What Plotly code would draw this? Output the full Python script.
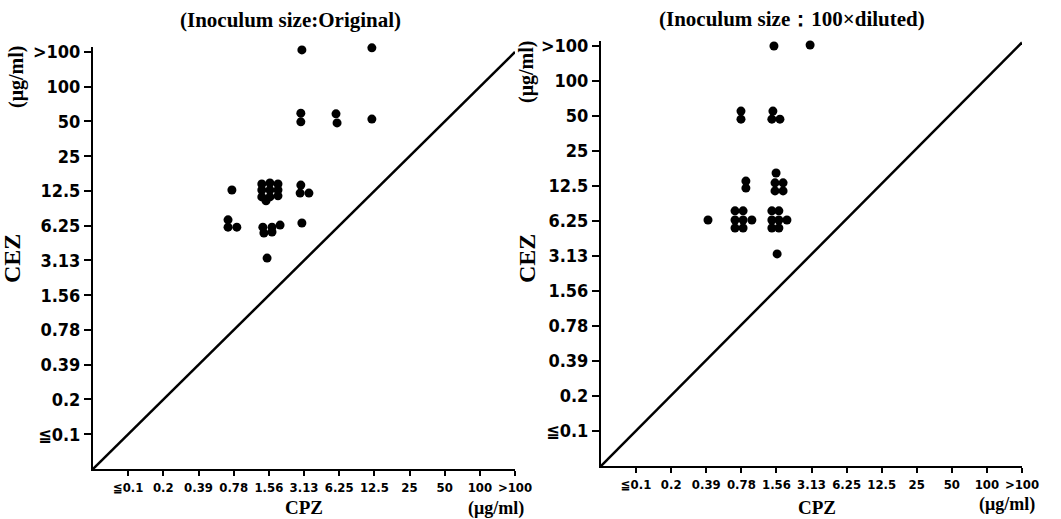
import plotly.graph_objects as go

# Tick positions (ordinal MIC steps) and labels
tick_pos = list(range(1, 13))
x_tick_labels = ["≦0.1", "0.2", "0.39", "0.78", "1.56", "3.13", "6.25", "12.5", "25", "50", "100", ">100"]
y_tick_labels = ["≦0.1", "0.2", "0.39", "0.78", "1.56", "3.13", "6.25", "12.5", "25", "50", "100", ">100"]

# Left panel (Inoculum size: Original) – dot positions on the ordinal MIC scale
left_cpz = [3.95,
            4.80, 5.03, 5.26, 4.80, 5.03, 5.26, 4.80, 5.03, 5.26, 4.92,
            5.91, 5.89, 6.14,
            3.84, 3.84, 4.09,
            4.83, 4.86, 5.09, 5.09, 5.32,
            5.94, 4.95,
            5.94, 7.93,
            5.91, 5.91, 6.91, 6.94, 7.93]
left_cez = [8.03,
            8.20, 8.23, 8.20, 8.03, 8.03, 8.03, 7.83, 7.83, 7.86, 7.72,
            8.17, 7.94, 7.94,
            7.17, 6.96, 6.96,
            6.96, 6.79, 6.96, 6.82, 7.02,
            7.08, 6.07,
            12.06, 12.12,
            10.24, 9.99, 10.22, 9.96, 10.07]

# Right panel (Inoculum size: 100x diluted)
right_cpz = [3.05,
             4.13, 4.13,
             3.82, 4.05, 3.82, 4.05, 3.82, 4.05, 4.30,
             4.99, 4.96, 5.19, 4.96, 5.19,
             4.87, 5.07, 4.87, 5.07, 4.87, 5.07, 5.30,
             5.02,
             3.99, 3.99,
             4.90, 4.87, 5.10,
             4.93, 5.96]
right_cez = [7.03,
             8.14, 7.94,
             7.29, 7.29, 7.03, 7.03, 6.80, 6.80, 7.03,
             8.37, 8.09, 8.09, 7.86, 7.86,
             7.29, 7.29, 7.03, 7.03, 6.80, 6.80, 7.03,
             6.06,
             10.14, 9.91,
             10.14, 9.91, 9.91,
             12.00, 12.03]

# Line of equality (CEZ = CPZ)
diag_x = [0, 12]
diag_left_y = [0, 12]
diag_right_y = [0, 12.1]

W, H = 1061, 519
YMAX = 12.15


def px(v):
    return v / W


def py(v):
    return 1 - v / H


fig = go.Figure()
fig.add_trace(go.Scatter(x=diag_x, y=diag_left_y, mode="lines",
                         line=dict(color="black", width=2.5), xaxis="x", yaxis="y",
                         showlegend=False, hoverinfo="skip"))
fig.add_trace(go.Scatter(x=left_cpz, y=left_cez, mode="markers",
                         marker=dict(color="black", size=9), xaxis="x", yaxis="y",
                         cliponaxis=False, showlegend=False))
fig.add_trace(go.Scatter(x=diag_x, y=diag_right_y, mode="lines",
                         line=dict(color="black", width=2.5), xaxis="x2", yaxis="y2",
                         showlegend=False, hoverinfo="skip"))
fig.add_trace(go.Scatter(x=right_cpz, y=right_cez, mode="markers",
                         marker=dict(color="black", size=9), xaxis="x2", yaxis="y2",
                         cliponaxis=False, showlegend=False))

narrow = "Liberation Sans Narrow, DejaVu Sans Condensed, Arial Narrow, Liberation Sans, sans-serif"
tickfont = dict(family=narrow, size=18, color="black", weight="bold")
xtickfont = dict(family=narrow, size=13, color="black", weight="bold")


def xaxis(domain, anchor):
    return dict(domain=domain, range=[0, 12], anchor=anchor, showgrid=False, zeroline=False,
                showline=True, linecolor="black", linewidth=2, ticks="outside", ticklen=5,
                tickwidth=1.5, tickcolor="black", tickvals=tick_pos, ticktext=x_tick_labels,
                tickfont=xtickfont, tickangle=0, fixedrange=True, automargin=False)


def yaxis(domain, anchor):
    return dict(domain=domain, range=[0, YMAX], anchor=anchor, showgrid=False, zeroline=False,
                showline=True, linecolor="black", linewidth=2, ticks="outside", ticklen=7,
                tickwidth=1.5, tickcolor="black", tickvals=tick_pos, ticktext=y_tick_labels,
                tickfont=tickfont, tickangle=0, fixedrange=True, automargin=False)


# pixel positions of the axis origins and the ">100" tick
L_bot, L_top12 = 469, 52
R_bot, R_top12 = 466, 46
L_top = L_bot - (L_bot - L_top12) * YMAX / 12
R_top = R_bot - (R_bot - R_top12) * YMAX / 12

fig.update_layout(
    width=W, height=H,
    margin=dict(l=0, r=0, t=0, b=0, pad=0),
    paper_bgcolor="white", plot_bgcolor="white",
    xaxis=xaxis([px(93), px(515)], "y"),
    yaxis=yaxis([py(L_bot), py(L_top)], "x"),
    xaxis2=xaxis([px(601), px(1022)], "y2"),
    yaxis2=yaxis([py(R_bot), py(R_top)], "x2"),
)

serif = "Liberation Serif, DejaVu Serif, serif"
anns = [
    dict(text="(Inoculum size:Original)", x=290, y=20, size=21, angle=0),
    dict(text="(Inoculum size：100×diluted)", x=792, y=19, size=21, angle=0),
    dict(text="CEZ", x=12, y=259, size=24, angle=-90),
    dict(text="(μg/ml)", x=16, y=77, size=20, angle=-90),
    dict(text="CEZ", x=527, y=259, size=24, angle=-90),
    dict(text="(μg/ml)", x=527, y=72, size=20, angle=-90),
    dict(text="CPZ", x=304, y=507, size=19, angle=0),
    dict(text="(μg/ml)", x=496, y=508, size=18, angle=0),
    dict(text="CPZ", x=817, y=507, size=19, angle=0),
    dict(text="(μg/ml)", x=1007, y=504, size=18, angle=0),
]
for a in anns:
    fig.add_annotation(text=a["text"], x=px(a["x"]), y=py(a["y"]), xref="paper", yref="paper",
                       showarrow=False, textangle=a["angle"], xanchor="center", yanchor="middle",
                       font=dict(family=serif, size=a["size"], color="black", weight="bold"))

fig.write_html(
    "out.html",
    post_script=("document.documentElement.style.margin='0';document.body.style.margin='0';"
                 "document.documentElement.style.overflow='hidden';document.body.style.overflow='hidden';"),
)
